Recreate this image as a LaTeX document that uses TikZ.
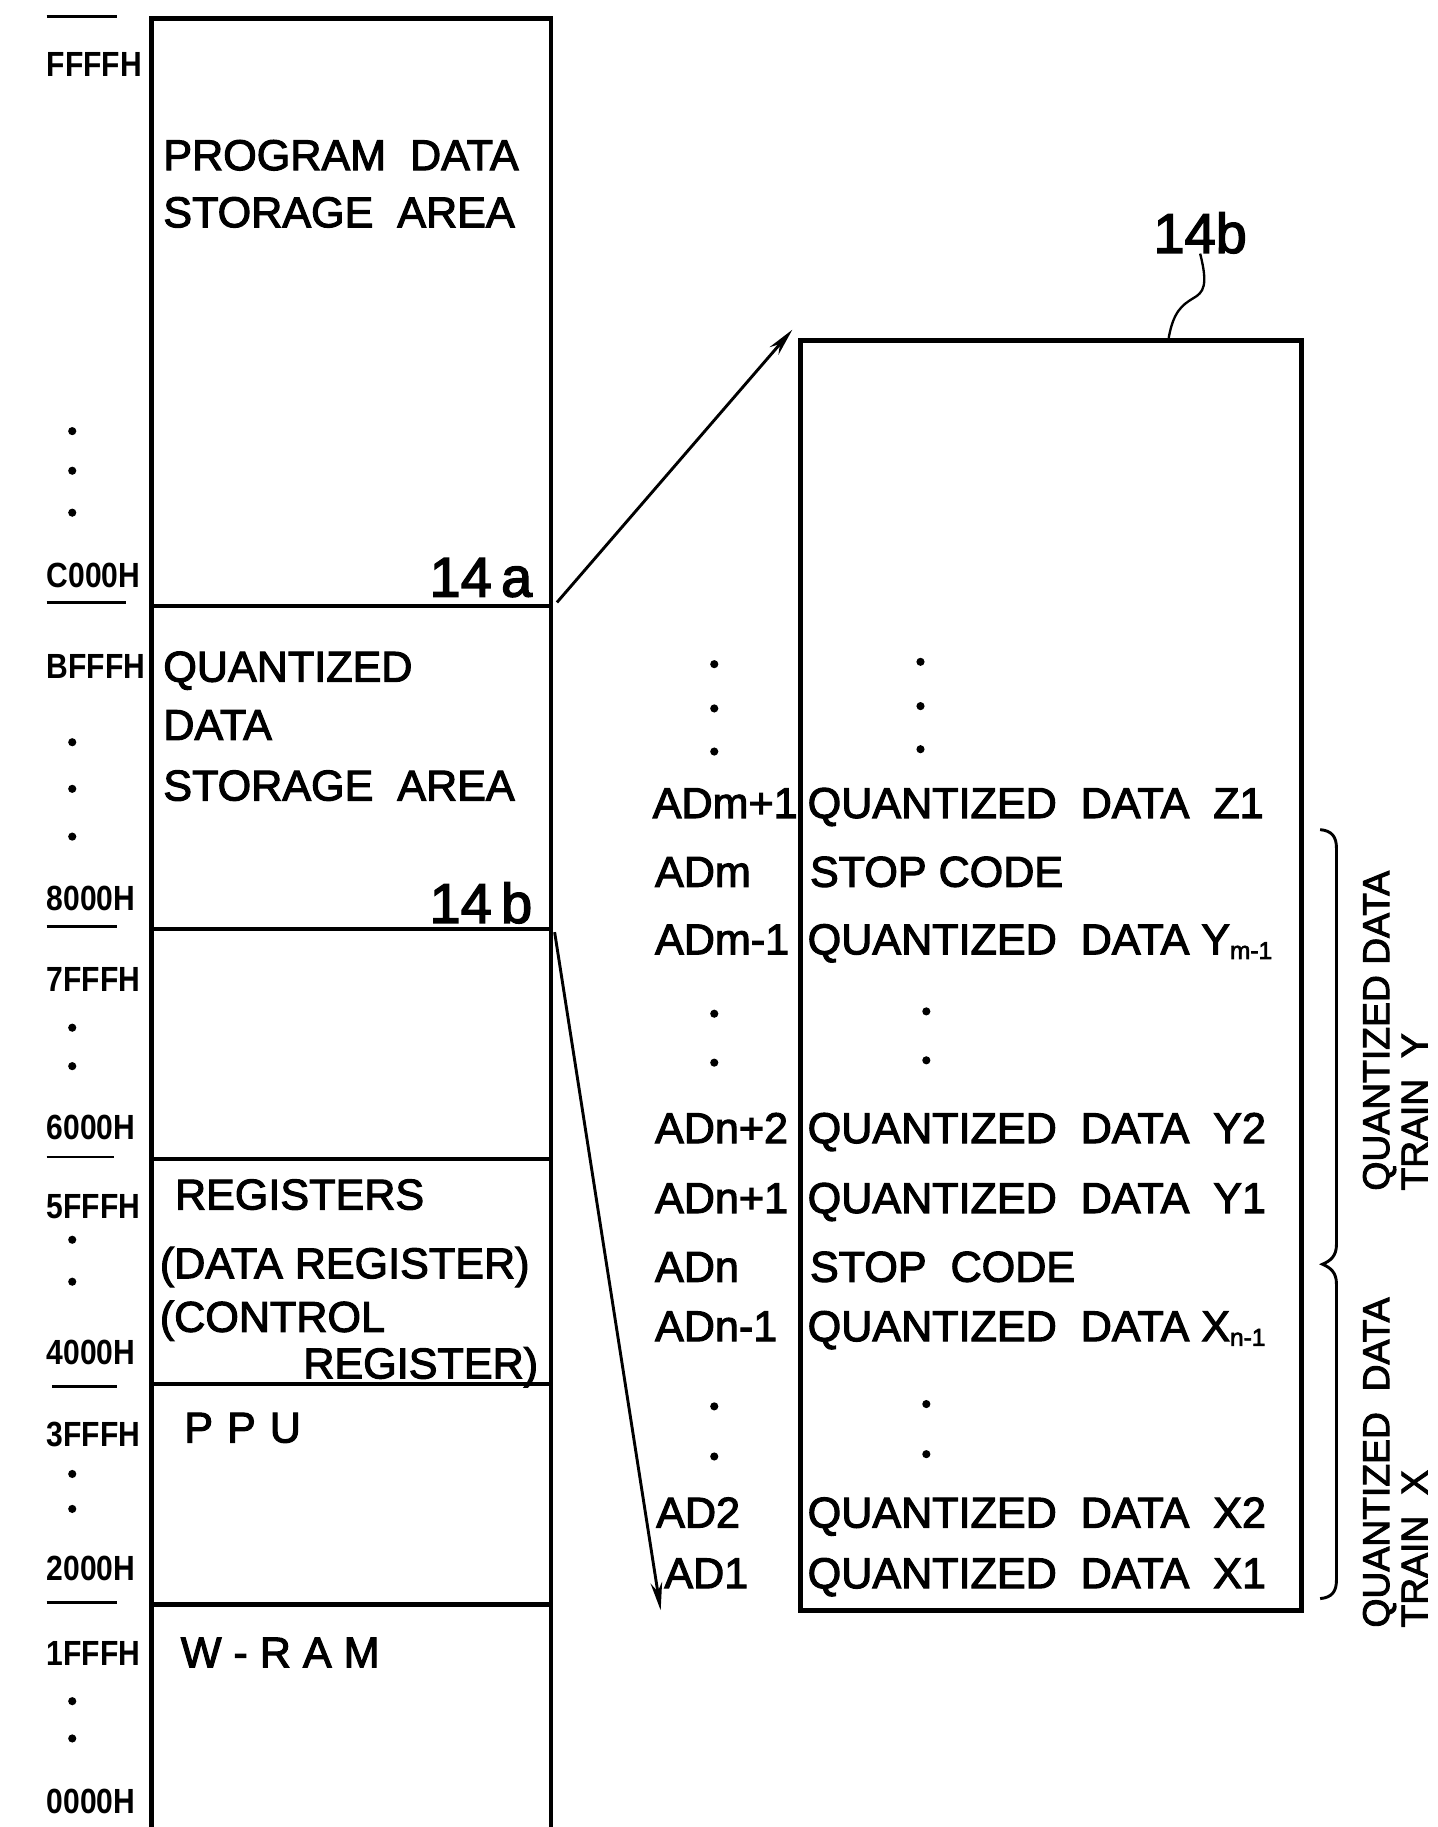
\documentclass[tikz,border=0pt]{standalone}
\usepackage{fontspec}
\setmainfont{Liberation Sans}[FakeBold=2.5]
\newfontfamily\adrfont{Liberation Sans Bold}
\usepackage{graphicx}
\usetikzlibrary{arrows.meta}
\newcommand{\ftxt}{\fontsize{37}{44}\selectfont}
\newcommand{\fadr}{\adrfont\fontsize{30}{36}\selectfont}
\newcommand{\fref}{\fontsize{48}{56}\selectfont}
\newcommand{\fsid}{\fontsize{32}{34}\selectfont}
\newcommand{\sbs}[1]{\raisebox{-4pt}{\fontsize{21}{21}\selectfont #1}}
\newcommand{\adr}[1]{\scalebox{0.86}[1]{#1}}
\begin{document}
\begin{tikzpicture}[x=1pt,y=-1pt,
  txt/.style={inner sep=0pt,anchor=base west,font=\ftxt},
  txte/.style={inner sep=0pt,anchor=base east,font=\ftxt},
  adrs/.style={inner sep=0pt,anchor=base west,font=\fadr},
  refl/.style={inner sep=0pt,anchor=base east,font=\fref},
  boxline/.style={line width=4pt},
  divline/.style={line width=3.5pt},
  uline/.style={line width=2.5pt},
  conn/.style={line width=2.5pt,-{Stealth[length=24pt,width=10pt]}},
  side/.style={inner sep=0pt,rotate=90,anchor=west,font=\fsid},
]
\useasboundingbox (0,0) rectangle (1234,1568);
\fill[white] (0,0) rectangle (1234,1568);

% ---------- left memory map ----------
\draw[boxline] (130,1568) -- (130,16) -- (473,16) -- (473,1568);
\draw[divline] (130,520) -- (473,520);
\draw[divline] (130,797) -- (473,797);
\draw[divline] (130,995) -- (473,995);
\draw[divline] (130,1188) -- (473,1188);
\draw[divline] (130,1377) -- (473,1377);

% address lines
\draw[uline] (40,14) -- (100,14);
\draw[uline] (40,517) -- (108,517);
\draw[uline] (40,795) -- (100,795);
\draw[uline] (40,993) -- (98,993);
\draw[uline] (45,1190) -- (100,1190);
\draw[uline] (40,1375) -- (100,1375);

% address labels
\node[adrs] (aFFFF) at (40,66) {\adr{FFFFH}};
\node[adrs] (aC000) at (40,504) {\adr{C000H}};
\node[adrs] (aBFFF) at (40,582) {\adr{BFFFH}};
\node[adrs] (a8000) at (40,781) {\adr{8000H}};
\node[adrs] (a7FFF) at (40,851) {\adr{7FFFH}};
\node[adrs] (a6000) at (40,978) {\adr{6000H}};
\node[adrs] (a5FFF) at (40,1046) {\adr{5FFFH}};
\node[adrs] (a4000) at (40,1171) {\adr{4000H}};
\node[adrs] (a3FFF) at (40,1241) {\adr{3FFFH}};
\node[adrs] (a2000) at (40,1356) {\adr{2000H}};
\node[adrs] (a1FFF) at (40,1429) {\adr{1FFFH}};
\node[adrs] (a0000) at (40,1556) {\adr{0000H}};

% dots left
\foreach \yy in {370,404,440,637,677,718,882,915,1064,1100,1265,1295,1460,1492}
  \fill (62,\yy) circle (3.5);

% area texts
\node[txt] (t1a) at (140,146) {PROGRAM~~DATA};
\node[txt] (t1b) at (140,195) {STORAGE~~AREA};
\node[refl] (r14a) at (457,512) {14\,a};
\node[txt] (t2a) at (140,585) {QUANTIZED};
\node[txt] (t2b) at (140,635) {DATA};
\node[txt] (t2c) at (140,687) {STORAGE~~AREA};
\node[refl] (r14bl) at (457,792) {14\,b};
\node[txt] (t3a) at (150,1038) {REGISTERS};
\node[txt] (t3b) at (137,1097) {(DATA REGISTER)};
\node[txt] (t3c) at (137,1143) {(CONTROL};
\node[txte] (t3d) at (462,1183) {REGISTER)};
\node[txt] (t4) at (158,1238) {P\hspace{12pt}P\hspace{12pt}U};
\node[txt] (t5) at (155,1431) {W~-~R~A~M};

% ---------- right detail box 14b ----------
\node[draw,boxline,inner sep=0pt,minimum width=430,minimum height=1090,anchor=north west] (mem14b) at (685,290) {};
\node[refl,anchor=base] (r14b) at (1030,217) {14b};
\coordinate (ldst) at (1003,290);
\draw[line width=2pt] (ldst) .. controls (1007,268) and (1014,262) .. (1024,256) .. controls (1033,251) and (1037,245) .. (r14b.south);

% connectors
\coordinate (c000r) at (478,517);
\coordinate (top14b) at (680,283);
\coordinate (bfr) at (476,800);
\coordinate (bot14b) at (567,1382);
\draw[conn] (c000r) -- (top14b);
\draw[conn] (bfr) -- (bot14b);

% dots right
\foreach \yy in {570,608,645,870,912,1207,1250}
  \fill (613,\yy) circle (3.5);
\foreach \yy in {568,606,643}
  \fill (790,\yy) circle (3.5);
\foreach \yy in {868,910,1205,1248}
  \fill (795,\yy) circle (3.5);

% address and data rows
\node[txt] (adm1) at (560,702) {ADm+1};
\node[txt] (dz1) at (693,702) {QUANTIZED~~DATA~~Z1};
\node[txt] (adm) at (562,761) {ADm};
\node[txt] (dsm) at (695,761) {STOP CODE};
\node[txt] (admm) at (562,819) {ADm-1};
\node[txt] (dym) at (693,819) {QUANTIZED~~DATA Y\sbs{m-1}};
\node[txt] (adn2) at (562,981) {ADn+2};
\node[txt] (dy2) at (693,981) {QUANTIZED~~DATA~~Y2};
\node[txt] (adn1) at (562,1041) {ADn+1};
\node[txt] (dy1) at (693,1041) {QUANTIZED~~DATA~~Y1};
\node[txt] (adn) at (562,1100) {ADn};
\node[txt] (dsn) at (695,1100) {STOP~~CODE};
\node[txt] (adnm) at (562,1151) {ADn-1};
\node[txt] (dxn) at (693,1151) {QUANTIZED~~DATA X\sbs{n-1}};
\node[txt] (ad2) at (563,1311) {AD2};
\node[txt] (dx2) at (693,1311) {QUANTIZED~~DATA~~X2};
\node[txt] (ad1) at (570,1363) {AD1};
\node[txt] (dx1) at (693,1363) {QUANTIZED~~DATA~~X1};

% brace
\draw[line width=2.5pt] (1133,712) .. controls (1143,713) and (1147,718) .. (1147,728) -- (1147,1068) .. controls (1147,1078) and (1142,1082) .. (1135,1085) .. controls (1142,1088) and (1147,1092) .. (1147,1102) -- (1147,1356) .. controls (1147,1366) and (1143,1371) .. (1133,1372);

% side labels
\node[side] (trainy1) at (1184,1022) {QUANTIZED DATA};
\node[side] (trainy2) at (1214,1022) {TRAIN~~Y};
\node[side] (trainx1) at (1184,1397) {QUANTIZED~~DATA};
\node[side] (trainx2) at (1214,1397) {TRAIN~~X};
\end{tikzpicture}
\end{document}
